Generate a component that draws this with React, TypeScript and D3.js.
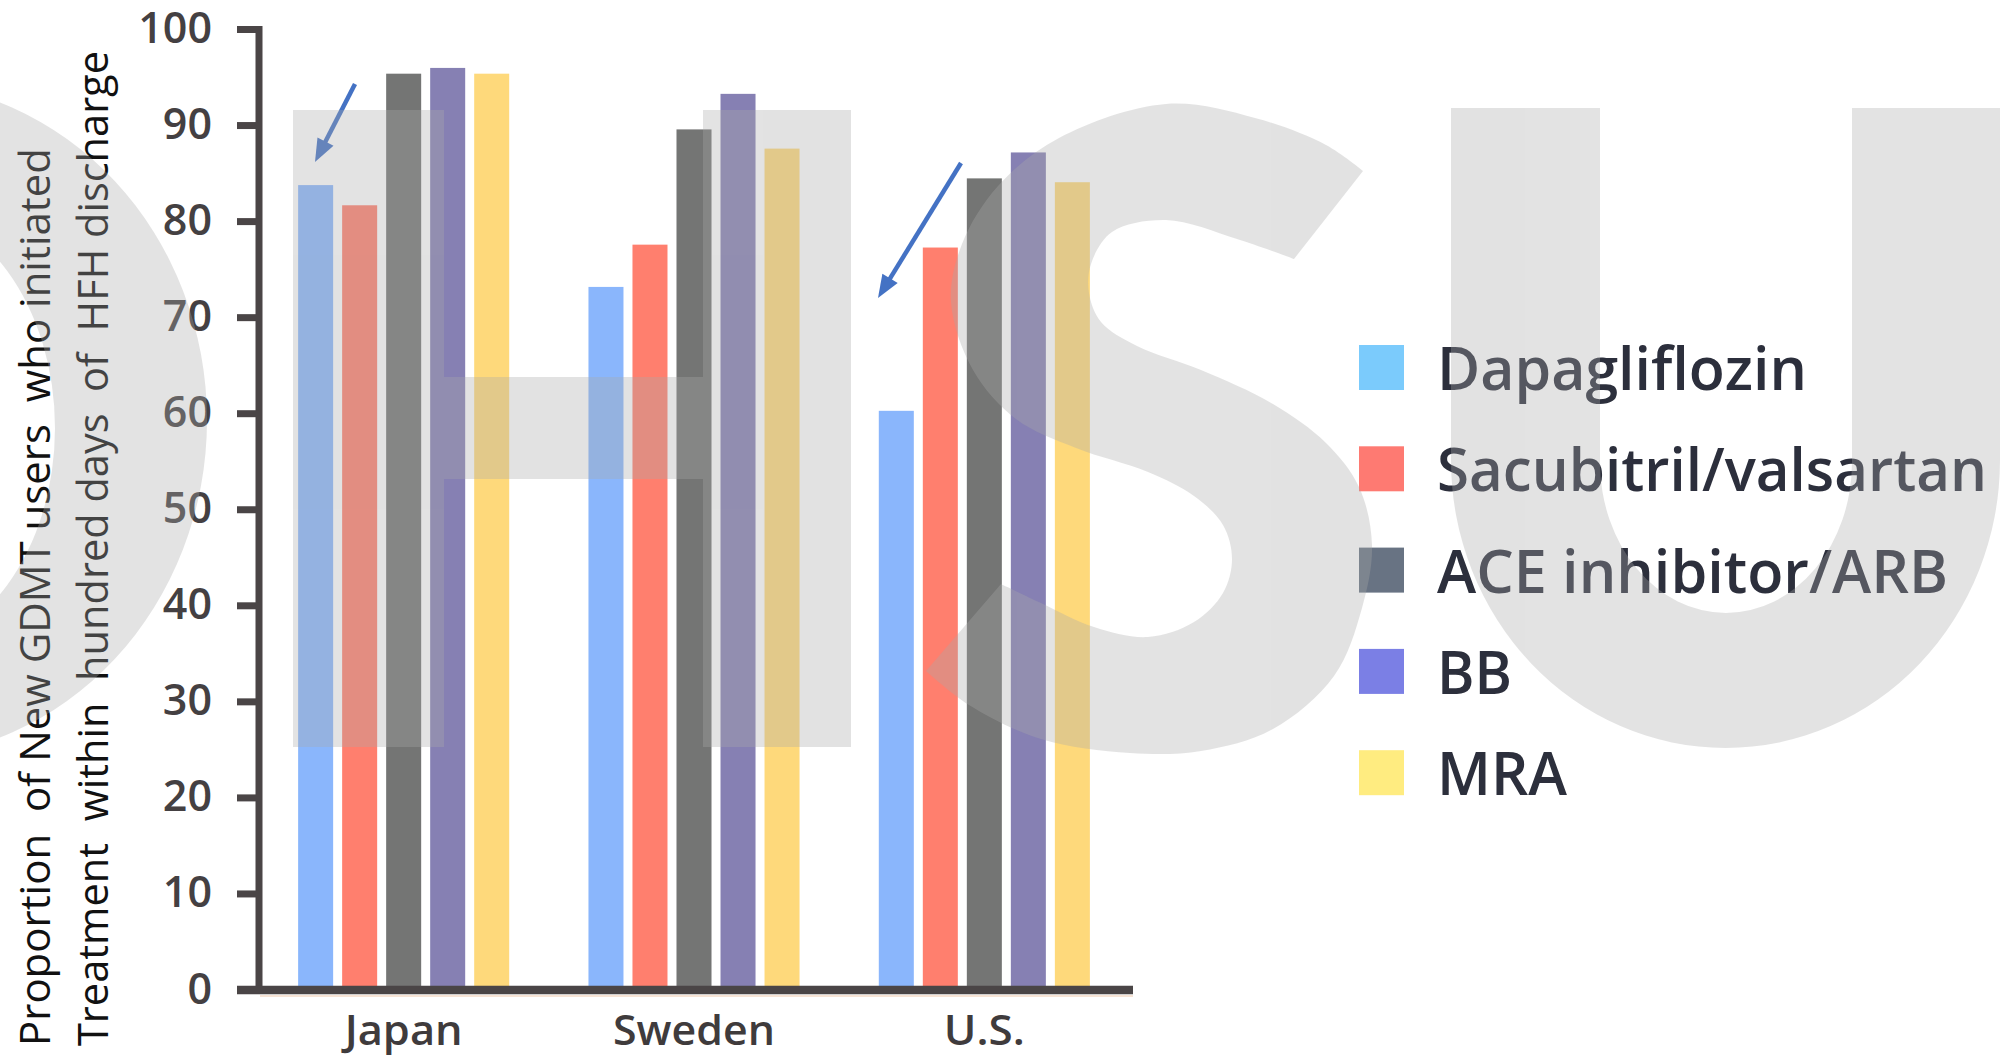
import React from "react";
import * as d3 from "d3";

// ---------- data ----------
const COUNTRIES = ["Japan", "Sweden", "U.S."];
const SERIES = ["Dapagliflozin", "Sacubitril/valsartan", "ACE inhibitor/ARB", "BB", "MRA"];
const DAPAGLIFLOZIN = [83.8, 73.2, 60.3];
const SACUBITRIL_VALSARTAN = [81.7, 77.6, 77.3];
const ACE_ARB = [95.4, 89.6, 84.5];
const BB = [96.0, 93.3, 87.2];
const MRA = [95.4, 87.6, 84.1];
const SERIES_VALUES = [DAPAGLIFLOZIN, SACUBITRIL_VALSARTAN, ACE_ARB, BB, MRA];
const Y_TICKS = [0, 10, 20, 30, 40, 50, 60, 70, 80, 90, 100];
const Y_LABEL_LINES = [
  "Proportion  of New GDMT users  who initiated",
  "Treatment  within  hundred days  of  HFH discharge",
];

// ---------- styles ----------
const BAR_COLORS = ["#8ab6fc", "#ff7f6e", "#747574", "#8680b3", "#fed97b"];
const LEGEND_COLORS = ["#7bcbfc", "#fe7a72", "#687383", "#7b7fe5", "#ffec80"];
const LEGEND_TEXT_LEN = [370, 550, 511, 75, 130];
const XLABEL_LEN = [118, 162, 81];
const AXIS_COLOR = "#4a4546";
const W = 2016;
const H = 1059;

// watermark decoration outline points (S glyph)
const S_SIDE_B: [number, number][] = [
  [1294, 259], [1237, 239], [1166, 220], [1112, 232], [1091, 264], [1089, 293],
  [1101, 322], [1137, 346], [1201, 370], [1273, 404], [1326, 443], [1359, 487],
  [1372, 545], [1362, 608], [1334, 676], [1273, 729], [1201, 751], [1130, 753],
  [1041, 739], [969, 705], [926, 671],
];
const S_SIDE_A: [number, number][] = [
  [1001, 584], [1041, 603], [1094, 627], [1148, 637], [1194, 622], [1223, 593],
  [1232, 559], [1223, 525], [1194, 496], [1148, 472], [1076, 448], [1016, 419],
  [973, 370], [951, 302], [962, 244], [998, 186], [1059, 138], [1166, 104],
  [1255, 118], [1326, 145], [1363, 171],
];

function arrowParts(x1: number, y1: number, x2: number, y2: number, len = 23, hw = 9) {
  const dx = x2 - x1, dy = y2 - y1;
  const L = Math.hypot(dx, dy);
  const ux = dx / L, uy = dy / L;
  const bx = x2 - ux * len, by = y2 - uy * len;
  const px = -uy, py = ux;
  return {
    line: { x1, y1, x2: bx + ux * 2, y2: by + uy * 2 },
    head: `M${x2},${y2}L${bx + px * hw},${by + py * hw}L${bx - px * hw},${by - py * hw}Z`,
  };
}

export default function App() {
  const x0 = d3.scaleBand<string>().domain(COUNTRIES).range([258.5, 1129.5]).paddingInner(0.273).paddingOuter(0.1365);
  const x1 = d3.scaleBand<string>().domain(SERIES).range([0, x0.bandwidth()]).paddingInner(0.2045).paddingOuter(0);
  const y = d3.scaleLinear().domain([0, 100]).range([990, 29.5]);

  const axisX = 259;
  const tickX0 = 237;

  const lineGen = d3.line().curve(d3.curveCatmullRom.alpha(0.5));
  const dB = lineGen(S_SIDE_B) as string;
  const dA = lineGen(S_SIDE_A) as string;
  const sPath = dB + "L" + dA.slice(1) + "Z";

  const oPath =
    `M${-108 - 315},420 a315,338 0 1,0 630,0 a315,338 0 1,0 -630,0 Z ` +
    `M${-108 - 163},428 a163,222 0 1,0 326,0 a163,222 0 1,0 -326,0 Z`;
  const uPath =
    "M1451,108 L1451,460 A274.5,288 0 0 0 2000,460 L2000,108 L1852,108 L1852,462 A126,151 0 0 1 1600,462 L1600,108 Z";

  const arrows = [
    arrowParts(355, 84, 315, 162),
    arrowParts(961, 163, 878, 298),
  ];

  const tickFont = "'Open Sans', 'Noto Sans', sans-serif";

  return (
    <svg
      width={W}
      height={H}
      viewBox={`0 0 ${W} ${H}`}
      style={{ position: "absolute", left: 0, top: 0, display: "block", background: "#ffffff" }}
    >
      <rect x={0} y={0} width={W} height={H} fill="#ffffff" />

      {/* bars */}
      {COUNTRIES.map((c, ci) => (
        <g key={c} transform={`translate(${x0(c)},0)`}>
          {SERIES.map((s, si) => {
            const v = SERIES_VALUES[si][ci];
            return (
              <rect
                key={s}
                x={x1(s)}
                y={y(v)}
                width={x1.bandwidth()}
                height={y(0) - y(v)}
                fill={BAR_COLORS[si]}
              />
            );
          })}
        </g>
      ))}

      {/* axes */}
      <line x1={axisX + 1} x2={1133} y1={996} y2={996} stroke="#f2cdb0" strokeWidth={1.5} opacity={0.7} />
      <line x1={axisX} x2={axisX} y1={y(100) - 3.5} y2={y(0) + 4} stroke={AXIS_COLOR} strokeWidth={7} />
      <line x1={tickX0} x2={1133} y1={y(0)} y2={y(0)} stroke={AXIS_COLOR} strokeWidth={8.5} />
      {Y_TICKS.map((t) => (
        <g key={t}>
          <line x1={tickX0} x2={axisX} y1={y(t)} y2={y(t)} stroke={AXIS_COLOR} strokeWidth={7} />
          <text
            x={212}
            y={y(t) + 13.5}
            textAnchor="end"
            fontFamily={tickFont}
            fontWeight={600}
            fontSize={43}
            fill="#444042"
          >
            {t}
          </text>
        </g>
      ))}

      {/* x labels */}
      {COUNTRIES.map((c, ci) => (
        <text
          key={c}
          x={(x0(c) as number) + x0.bandwidth() / 2}
          y={1045}
          textAnchor="middle"
          fontFamily={tickFont}
          fontWeight={600}
          fontSize={42}
          fill="#3f3b3c"
          textLength={XLABEL_LEN[ci]}
          lengthAdjust="spacingAndGlyphs"
        >
          {c}
        </text>
      ))}

      {/* y label */}
      <text
        transform="translate(50,1046) rotate(-90)"
        fontFamily="'Open Sans', 'Noto Sans', sans-serif"
        fontSize={42}
        fill="#111111"
        xmlSpace="preserve"
        style={{ whiteSpace: "pre" }}
        textLength={898}
        lengthAdjust="spacingAndGlyphs"
      >
        {Y_LABEL_LINES[0]}
      </text>
      <text
        transform="translate(108,1046) rotate(-90)"
        fontFamily="'Open Sans', 'Noto Sans', sans-serif"
        fontSize={42}
        fill="#111111"
        xmlSpace="preserve"
        style={{ whiteSpace: "pre" }}
        textLength={995}
        lengthAdjust="spacingAndGlyphs"
      >
        {Y_LABEL_LINES[1]}
      </text>

      {/* legend */}
      {SERIES.map((s, i) => {
        const top = 345 + i * 101.3;
        return (
          <g key={s}>
            <rect x={1359} y={top} width={45} height={45} fill={LEGEND_COLORS[i]} />
            <text
              x={1437}
              y={top + 45}
              fontFamily={tickFont}
              fontWeight={600}
              fontSize={60}
              fill="#2c2f3c"
              textLength={LEGEND_TEXT_LEN[i]}
              lengthAdjust="spacingAndGlyphs"
            >
              {s}
            </text>
          </g>
        );
      })}

      {/* arrows */}
      {arrows.map((a, i) => (
        <g key={i}>
          <line {...a.line} stroke="#4472c4" strokeWidth={4.5} />
          <path d={a.head} fill="#4472c4" />
        </g>
      ))}

      {/* watermark */}
      <g fill="rgb(170,170,170)" opacity={0.33}>
        <path d={oPath} fillRule="evenodd" />
        <rect x={293} y={110} width={151} height={637} />
        <rect x={703} y={110} width={148} height={637} />
        <rect x={444} y={377} width={259} height={102} />
        <path d={sPath} />
        <path d={uPath} />
      </g>
    </svg>
  );
}
